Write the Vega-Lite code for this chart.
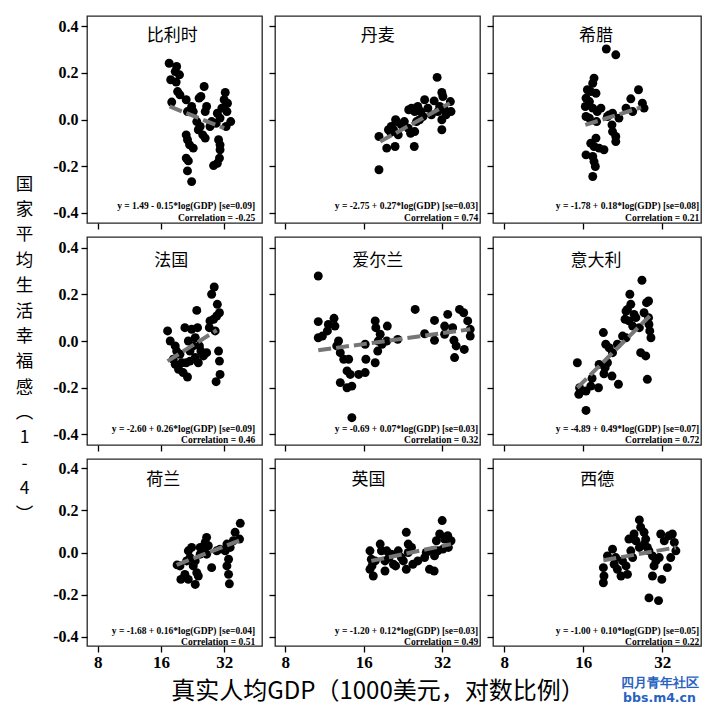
{
  "$schema": "https://vega.github.io/schema/vega-lite/v6.json",
  "padding": {"left": 14, "top": 15, "right": 5, "bottom": 0},
  "background": "white",
  "datasets": {
    "points": [
      {"country":"BE","gdp":17.5,"happiness":0.242},{"country":"BE","gdp":19.0,"happiness":0.228},{"country":"BE","gdp":18.7,"happiness":0.206},{"country":"BE","gdp":19.6,"happiness":0.192},{"country":"BE","gdp":17.8,"happiness":0.171},{"country":"BE","gdp":18.9,"happiness":0.161},{"country":"BE","gdp":19.2,"happiness":0.120},{"country":"BE","gdp":19.7,"happiness":0.106},{"country":"BE","gdp":18.0,"happiness":0.075},{"country":"BE","gdp":21.1,"happiness":0.085},{"country":"BE","gdp":22.4,"happiness":0.056},{"country":"BE","gdp":21.4,"happiness":0.034},{"country":"BE","gdp":22.8,"happiness":0.034},{"country":"BE","gdp":24.3,"happiness":0.092},{"country":"BE","gdp":25.7,"happiness":0.142},{"country":"BE","gdp":24.8,"happiness":0.099},{"country":"BE","gdp":26.4,"happiness":0.056},{"country":"BE","gdp":26.0,"happiness":0.034},{"country":"BE","gdp":32.4,"happiness":0.116},{"country":"BE","gdp":32.0,"happiness":0.085},{"country":"BE","gdp":33.2,"happiness":0.070},{"country":"BE","gdp":31.2,"happiness":0.049},{"country":"BE","gdp":33.0,"happiness":0.034},{"country":"BE","gdp":34.4,"happiness":-0.009},{"country":"BE","gdp":32.7,"happiness":-0.030},{"country":"BE","gdp":29.7,"happiness":0.027},{"country":"BE","gdp":30.6,"happiness":0.006},{"country":"BE","gdp":29.3,"happiness":-0.016},{"country":"BE","gdp":23.7,"happiness":-0.009},{"country":"BE","gdp":24.6,"happiness":-0.030},{"country":"BE","gdp":24.1,"happiness":-0.044},{"country":"BE","gdp":25.3,"happiness":-0.066},{"country":"BE","gdp":26.0,"happiness":-0.080},{"country":"BE","gdp":27.4,"happiness":-0.030},{"country":"BE","gdp":27.9,"happiness":-0.009},{"country":"BE","gdp":21.1,"happiness":-0.066},{"country":"BE","gdp":21.4,"happiness":-0.087},{"country":"BE","gdp":21.9,"happiness":-0.109},{"country":"BE","gdp":22.8,"happiness":-0.123},{"country":"BE","gdp":21.1,"happiness":-0.166},{"country":"BE","gdp":21.6,"happiness":-0.178},{"country":"BE","gdp":21.4,"happiness":-0.221},{"country":"BE","gdp":22.4,"happiness":-0.267},{"country":"BE","gdp":30.1,"happiness":-0.087},{"country":"BE","gdp":30.6,"happiness":-0.109},{"country":"BE","gdp":30.6,"happiness":-0.130},{"country":"BE","gdp":30.4,"happiness":-0.166},{"country":"BE","gdp":28.5,"happiness":-0.198},{"country":"BE","gdp":29.7,"happiness":-0.188},
      {"country":"DK","gdp":18.3,"happiness":-0.073},{"country":"DK","gdp":18.3,"happiness":-0.216},{"country":"DK","gdp":19.6,"happiness":-0.123},{"country":"DK","gdp":19.9,"happiness":-0.044},{"country":"DK","gdp":20.4,"happiness":-0.030},{"country":"DK","gdp":21.2,"happiness":-0.001},{"country":"DK","gdp":20.8,"happiness":-0.044},{"country":"DK","gdp":21.1,"happiness":-0.116},{"country":"DK","gdp":21.7,"happiness":-0.066},{"country":"DK","gdp":22.3,"happiness":-0.023},{"country":"DK","gdp":22.9,"happiness":-0.009},{"country":"DK","gdp":23.7,"happiness":-0.037},{"country":"DK","gdp":24.2,"happiness":-0.059},{"country":"DK","gdp":25.0,"happiness":-0.116},{"country":"DK","gdp":25.1,"happiness":-0.052},{"country":"DK","gdp":23.8,"happiness":0.042},{"country":"DK","gdp":24.4,"happiness":0.049},{"country":"DK","gdp":25.1,"happiness":0.034},{"country":"DK","gdp":25.8,"happiness":0.056},{"country":"DK","gdp":26.5,"happiness":0.034},{"country":"DK","gdp":27.4,"happiness":0.085},{"country":"DK","gdp":28.2,"happiness":0.049},{"country":"DK","gdp":29.8,"happiness":0.080},{"country":"DK","gdp":30.6,"happiness":0.181},{"country":"DK","gdp":31.9,"happiness":0.116},{"country":"DK","gdp":32.2,"happiness":0.099},{"country":"DK","gdp":31.3,"happiness":0.056},{"country":"DK","gdp":32.7,"happiness":0.042},{"country":"DK","gdp":34.4,"happiness":0.077},{"country":"DK","gdp":34.6,"happiness":0.034},{"country":"DK","gdp":33.1,"happiness":0.020},{"country":"DK","gdp":31.9,"happiness":-0.001},{"country":"DK","gdp":31.9,"happiness":-0.044},{"country":"DK","gdp":30.8,"happiness":0.034},{"country":"DK","gdp":29.1,"happiness":0.020},{"country":"DK","gdp":27.0,"happiness":0.013},{"country":"DK","gdp":25.5,"happiness":-0.009},{"country":"DK","gdp":26.2,"happiness":-0.001},{"country":"DK","gdp":21.4,"happiness":-0.009},{"country":"DK","gdp":20.3,"happiness":-0.055},
      {"country":"GR","gdp":19.6,"happiness":0.303},{"country":"GR","gdp":21.3,"happiness":0.278},{"country":"GR","gdp":17.6,"happiness":0.178},{"country":"GR","gdp":17.4,"happiness":0.156},{"country":"GR","gdp":16.6,"happiness":0.128},{"country":"GR","gdp":17.1,"happiness":0.120},{"country":"GR","gdp":17.9,"happiness":0.113},{"country":"GR","gdp":16.4,"happiness":0.092},{"country":"GR","gdp":16.9,"happiness":0.077},{"country":"GR","gdp":16.3,"happiness":0.056},{"country":"GR","gdp":17.4,"happiness":0.049},{"country":"GR","gdp":18.1,"happiness":0.034},{"country":"GR","gdp":18.7,"happiness":0.049},{"country":"GR","gdp":16.4,"happiness":0.013},{"country":"GR","gdp":16.9,"happiness":0.006},{"country":"GR","gdp":19.8,"happiness":0.013},{"country":"GR","gdp":20.1,"happiness":0.020},{"country":"GR","gdp":20.7,"happiness":0.027},{"country":"GR","gdp":21.9,"happiness":0.006},{"country":"GR","gdp":20.6,"happiness":-0.023},{"country":"GR","gdp":20.7,"happiness":-0.052},{"country":"GR","gdp":21.3,"happiness":-0.073},{"country":"GR","gdp":21.3,"happiness":-0.095},{"country":"GR","gdp":17.9,"happiness":-0.080},{"country":"GR","gdp":17.1,"happiness":-0.102},{"country":"GR","gdp":17.6,"happiness":-0.116},{"country":"GR","gdp":18.4,"happiness":-0.123},{"country":"GR","gdp":19.2,"happiness":-0.130},{"country":"GR","gdp":16.4,"happiness":-0.152},{"country":"GR","gdp":17.4,"happiness":-0.159},{"country":"GR","gdp":17.6,"happiness":-0.181},{"country":"GR","gdp":17.8,"happiness":-0.202},{"country":"GR","gdp":17.4,"happiness":-0.245},{"country":"GR","gdp":24.3,"happiness":0.089},{"country":"GR","gdp":26.0,"happiness":0.128},{"country":"GR","gdp":26.9,"happiness":0.070},{"country":"GR","gdp":27.3,"happiness":0.049},{"country":"GR","gdp":24.7,"happiness":0.034},{"country":"GR","gdp":23.3,"happiness":0.049},{"country":"GR","gdp":18.0,"happiness":-0.009},
      {"country":"FR","gdp":28.7,"happiness":0.231},{"country":"FR","gdp":27.9,"happiness":0.200},{"country":"FR","gdp":29.7,"happiness":0.157},{"country":"FR","gdp":30.4,"happiness":0.121},{"country":"FR","gdp":29.5,"happiness":0.107},{"country":"FR","gdp":28.5,"happiness":0.093},{"country":"FR","gdp":27.4,"happiness":0.086},{"country":"FR","gdp":27.2,"happiness":0.057},{"country":"FR","gdp":29.0,"happiness":0.043},{"country":"FR","gdp":23.7,"happiness":0.131},{"country":"FR","gdp":17.2,"happiness":0.043},{"country":"FR","gdp":17.7,"happiness":0.000},{"country":"FR","gdp":18.7,"happiness":-0.021},{"country":"FR","gdp":19.0,"happiness":-0.043},{"country":"FR","gdp":18.3,"happiness":-0.078},{"country":"FR","gdp":18.7,"happiness":-0.100},{"country":"FR","gdp":19.4,"happiness":-0.121},{"country":"FR","gdp":20.4,"happiness":-0.135},{"country":"FR","gdp":21.4,"happiness":-0.154},{"country":"FR","gdp":20.1,"happiness":-0.093},{"country":"FR","gdp":21.1,"happiness":-0.093},{"country":"FR","gdp":22.0,"happiness":-0.086},{"country":"FR","gdp":21.6,"happiness":0.000},{"country":"FR","gdp":20.8,"happiness":0.057},{"country":"FR","gdp":22.4,"happiness":0.050},{"country":"FR","gdp":23.9,"happiness":0.057},{"country":"FR","gdp":23.3,"happiness":0.014},{"country":"FR","gdp":24.4,"happiness":-0.021},{"country":"FR","gdp":24.8,"happiness":-0.043},{"country":"FR","gdp":25.5,"happiness":-0.064},{"country":"FR","gdp":26.4,"happiness":-0.050},{"country":"FR","gdp":24.1,"happiness":-0.093},{"country":"FR","gdp":23.3,"happiness":-0.071},{"country":"FR","gdp":19.7,"happiness":-0.057},{"country":"FR","gdp":30.1,"happiness":-0.043},{"country":"FR","gdp":30.4,"happiness":-0.086},{"country":"FR","gdp":30.6,"happiness":-0.143},{"country":"FR","gdp":29.3,"happiness":-0.174},{"country":"FR","gdp":22.0,"happiness":-0.043},{"country":"FR","gdp":22.8,"happiness":-0.021},
      {"country":"IE","gdp":10.7,"happiness":0.278},{"country":"IE","gdp":10.7,"happiness":0.083},{"country":"IE","gdp":10.7,"happiness":0.014},{"country":"IE","gdp":11.1,"happiness":0.021},{"country":"IE","gdp":11.6,"happiness":0.043},{"country":"IE","gdp":11.7,"happiness":0.071},{"country":"IE","gdp":12.3,"happiness":0.097},{"country":"IE","gdp":12.4,"happiness":0.064},{"country":"IE","gdp":12.8,"happiness":0.000},{"country":"IE","gdp":12.6,"happiness":-0.021},{"country":"IE","gdp":13.0,"happiness":-0.050},{"country":"IE","gdp":13.4,"happiness":-0.078},{"country":"IE","gdp":14.0,"happiness":-0.078},{"country":"IE","gdp":13.8,"happiness":-0.128},{"country":"IE","gdp":14.2,"happiness":-0.143},{"country":"IE","gdp":13.0,"happiness":-0.178},{"country":"IE","gdp":13.8,"happiness":-0.200},{"country":"IE","gdp":14.4,"happiness":-0.193},{"country":"IE","gdp":15.3,"happiness":-0.143},{"country":"IE","gdp":16.2,"happiness":-0.135},{"country":"IE","gdp":16.3,"happiness":-0.078},{"country":"IE","gdp":17.7,"happiness":-0.093},{"country":"IE","gdp":16.2,"happiness":-0.014},{"country":"IE","gdp":17.7,"happiness":0.086},{"country":"IE","gdp":17.8,"happiness":0.057},{"country":"IE","gdp":18.5,"happiness":0.029},{"country":"IE","gdp":18.2,"happiness":0.000},{"country":"IE","gdp":18.1,"happiness":-0.043},{"country":"IE","gdp":18.8,"happiness":-0.014},{"country":"IE","gdp":19.6,"happiness":0.000},{"country":"IE","gdp":19.7,"happiness":0.064},{"country":"IE","gdp":21.6,"happiness":0.007},{"country":"IE","gdp":25.2,"happiness":0.135},{"country":"IE","gdp":27.4,"happiness":0.031},{"country":"IE","gdp":29.9,"happiness":0.088},{"country":"IE","gdp":29.9,"happiness":0.003},{"country":"IE","gdp":32.7,"happiness":0.029},{"country":"IE","gdp":33.6,"happiness":0.114},{"country":"IE","gdp":35.1,"happiness":0.057},{"country":"IE","gdp":35.5,"happiness":0.003},{"country":"IE","gdp":36.2,"happiness":-0.021},{"country":"IE","gdp":35.7,"happiness":-0.071},{"country":"IE","gdp":38.9,"happiness":-0.036},{"country":"IE","gdp":37.3,"happiness":0.135},{"country":"IE","gdp":38.7,"happiness":0.121},{"country":"IE","gdp":40.1,"happiness":0.086},{"country":"IE","gdp":41.0,"happiness":0.050},{"country":"IE","gdp":41.0,"happiness":0.021},{"country":"IE","gdp":14.4,"happiness":-0.328},{"country":"IE","gdp":32.7,"happiness":0.064},
      {"country":"IT","gdp":15.2,"happiness":-0.093},{"country":"IT","gdp":15.4,"happiness":-0.228},{"country":"IT","gdp":15.5,"happiness":-0.200},{"country":"IT","gdp":16.4,"happiness":-0.214},{"country":"IT","gdp":16.4,"happiness":-0.297},{"country":"IT","gdp":17.3,"happiness":-0.160},{"country":"IT","gdp":17.1,"happiness":-0.193},{"country":"IT","gdp":18.3,"happiness":-0.200},{"country":"IT","gdp":18.4,"happiness":-0.100},{"country":"IT","gdp":19.1,"happiness":0.036},{"country":"IT","gdp":19.5,"happiness":-0.014},{"country":"IT","gdp":19.4,"happiness":-0.114},{"country":"IT","gdp":19.2,"happiness":-0.140},{"country":"IT","gdp":20.1,"happiness":-0.029},{"country":"IT","gdp":19.8,"happiness":-0.093},{"country":"IT","gdp":20.6,"happiness":-0.150},{"country":"IT","gdp":21.8,"happiness":-0.185},{"country":"IT","gdp":20.7,"happiness":-0.050},{"country":"IT","gdp":21.6,"happiness":-0.014},{"country":"IT","gdp":22.6,"happiness":0.021},{"country":"IT","gdp":23.3,"happiness":0.014},{"country":"IT","gdp":23.1,"happiness":0.093},{"country":"IT","gdp":23.3,"happiness":0.128},{"country":"IT","gdp":23.6,"happiness":0.135},{"country":"IT","gdp":24.1,"happiness":0.200},{"country":"IT","gdp":24.3,"happiness":0.157},{"country":"IT","gdp":23.9,"happiness":0.086},{"country":"IT","gdp":24.7,"happiness":0.064},{"country":"IT","gdp":25.0,"happiness":0.114},{"country":"IT","gdp":25.4,"happiness":0.100},{"country":"IT","gdp":26.8,"happiness":0.260},{"country":"IT","gdp":26.2,"happiness":0.057},{"country":"IT","gdp":26.5,"happiness":-0.050},{"country":"IT","gdp":27.7,"happiness":-0.064},{"country":"IT","gdp":27.9,"happiness":0.164},{"country":"IT","gdp":28.4,"happiness":0.171},{"country":"IT","gdp":28.4,"happiness":0.100},{"country":"IT","gdp":28.5,"happiness":0.071},{"country":"IT","gdp":28.7,"happiness":0.043},{"country":"IT","gdp":29.0,"happiness":0.014},{"country":"IT","gdp":28.1,"happiness":-0.164},{"country":"IT","gdp":27.3,"happiness":0.121},
      {"country":"NL","gdp":38.2,"happiness":0.139},{"country":"NL","gdp":36.1,"happiness":0.096},{"country":"NL","gdp":37.9,"happiness":0.064},{"country":"NL","gdp":35.4,"happiness":0.056},{"country":"NL","gdp":33.0,"happiness":0.040},{"country":"NL","gdp":32.4,"happiness":0.008},{"country":"NL","gdp":34.2,"happiness":0.024},{"country":"NL","gdp":33.6,"happiness":-0.032},{"country":"NL","gdp":33.0,"happiness":-0.064},{"country":"NL","gdp":33.6,"happiness":-0.104},{"country":"NL","gdp":33.9,"happiness":-0.149},{"country":"NL","gdp":26.4,"happiness":0.072},{"country":"NL","gdp":26.0,"happiness":0.048},{"country":"NL","gdp":26.9,"happiness":0.032},{"country":"NL","gdp":25.5,"happiness":0.008},{"country":"NL","gdp":24.6,"happiness":-0.008},{"country":"NL","gdp":22.4,"happiness":0.024},{"country":"NL","gdp":21.6,"happiness":0.008},{"country":"NL","gdp":22.0,"happiness":-0.024},{"country":"NL","gdp":23.3,"happiness":-0.040},{"country":"NL","gdp":22.8,"happiness":-0.064},{"country":"NL","gdp":23.7,"happiness":-0.096},{"country":"NL","gdp":24.1,"happiness":-0.112},{"country":"NL","gdp":23.3,"happiness":-0.152},{"country":"NL","gdp":21.6,"happiness":-0.128},{"country":"NL","gdp":19.7,"happiness":-0.064},{"country":"NL","gdp":19.9,"happiness":-0.128},{"country":"NL","gdp":20.8,"happiness":-0.104},{"country":"NL","gdp":27.9,"happiness":-0.072},{"country":"NL","gdp":29.5,"happiness":0.008},{"country":"NL","gdp":30.6,"happiness":0.016},{"country":"NL","gdp":26.4,"happiness":-0.008},{"country":"NL","gdp":19.1,"happiness":-0.059},{"country":"NL","gdp":21.2,"happiness":-0.040},{"country":"NL","gdp":24.6,"happiness":0.024},
      {"country":"UK","gdp":16.9,"happiness":0.008},{"country":"UK","gdp":17.1,"happiness":-0.032},{"country":"UK","gdp":16.9,"happiness":-0.080},{"country":"UK","gdp":17.4,"happiness":-0.112},{"country":"UK","gdp":17.7,"happiness":-0.040},{"country":"UK","gdp":18.5,"happiness":0.040},{"country":"UK","gdp":18.7,"happiness":0.008},{"country":"UK","gdp":19.6,"happiness":0.008},{"country":"UK","gdp":19.3,"happiness":-0.040},{"country":"UK","gdp":19.3,"happiness":-0.088},{"country":"UK","gdp":20.0,"happiness":-0.024},{"country":"UK","gdp":20.4,"happiness":-0.008},{"country":"UK","gdp":20.8,"happiness":-0.056},{"country":"UK","gdp":21.2,"happiness":-0.064},{"country":"UK","gdp":21.7,"happiness":0.008},{"country":"UK","gdp":22.3,"happiness":-0.024},{"country":"UK","gdp":22.7,"happiness":-0.040},{"country":"UK","gdp":23.3,"happiness":0.096},{"country":"UK","gdp":23.7,"happiness":0.040},{"country":"UK","gdp":23.3,"happiness":-0.080},{"country":"UK","gdp":23.7,"happiness":0.000},{"country":"UK","gdp":24.4,"happiness":0.024},{"country":"UK","gdp":24.7,"happiness":-0.056},{"country":"UK","gdp":25.8,"happiness":-0.040},{"country":"UK","gdp":27.4,"happiness":-0.024},{"country":"UK","gdp":27.8,"happiness":0.000},{"country":"UK","gdp":28.6,"happiness":-0.080},{"country":"UK","gdp":29.8,"happiness":-0.088},{"country":"UK","gdp":29.5,"happiness":0.008},{"country":"UK","gdp":30.4,"happiness":0.056},{"country":"UK","gdp":29.9,"happiness":-0.016},{"country":"UK","gdp":31.3,"happiness":0.088},{"country":"UK","gdp":32.0,"happiness":0.152},{"country":"UK","gdp":32.7,"happiness":0.064},{"country":"UK","gdp":33.6,"happiness":0.080},{"country":"UK","gdp":34.6,"happiness":0.056},{"country":"UK","gdp":33.8,"happiness":0.024},{"country":"UK","gdp":32.2,"happiness":0.016},{"country":"UK","gdp":30.8,"happiness":0.008},{"country":"UK","gdp":17.2,"happiness":-0.064},
      {"country":"WG","gdp":19.1,"happiness":-0.072},{"country":"WG","gdp":19.2,"happiness":-0.112},{"country":"WG","gdp":19.1,"happiness":-0.144},{"country":"WG","gdp":19.8,"happiness":-0.016},{"country":"WG","gdp":20.7,"happiness":0.016},{"country":"WG","gdp":21.3,"happiness":-0.024},{"country":"WG","gdp":21.0,"happiness":-0.056},{"country":"WG","gdp":21.6,"happiness":-0.080},{"country":"WG","gdp":22.3,"happiness":-0.112},{"country":"WG","gdp":22.6,"happiness":-0.040},{"country":"WG","gdp":23.3,"happiness":-0.064},{"country":"WG","gdp":23.6,"happiness":-0.104},{"country":"WG","gdp":24.3,"happiness":0.008},{"country":"WG","gdp":23.9,"happiness":0.064},{"country":"WG","gdp":25.0,"happiness":0.088},{"country":"WG","gdp":25.4,"happiness":0.056},{"country":"WG","gdp":26.2,"happiness":0.155},{"country":"WG","gdp":26.5,"happiness":0.120},{"country":"WG","gdp":27.3,"happiness":0.096},{"country":"WG","gdp":27.7,"happiness":0.064},{"country":"WG","gdp":27.3,"happiness":0.040},{"country":"WG","gdp":28.1,"happiness":0.024},{"country":"WG","gdp":28.5,"happiness":0.008},{"country":"WG","gdp":29.4,"happiness":-0.016},{"country":"WG","gdp":29.8,"happiness":-0.064},{"country":"WG","gdp":30.3,"happiness":-0.040},{"country":"WG","gdp":31.2,"happiness":-0.024},{"country":"WG","gdp":31.6,"happiness":0.088},{"country":"WG","gdp":32.6,"happiness":0.056},{"country":"WG","gdp":34.0,"happiness":0.080},{"country":"WG","gdp":35.0,"happiness":0.088},{"country":"WG","gdp":35.6,"happiness":0.048},{"country":"WG","gdp":36.1,"happiness":0.008},{"country":"WG","gdp":34.5,"happiness":-0.024},{"country":"WG","gdp":33.5,"happiness":-0.072},{"country":"WG","gdp":29.4,"happiness":-0.112},{"country":"WG","gdp":31.9,"happiness":-0.128},{"country":"WG","gdp":28.5,"happiness":-0.216},{"country":"WG","gdp":31.0,"happiness":-0.229},{"country":"WG","gdp":26.2,"happiness":0.024},{"country":"WG","gdp":24.7,"happiness":-0.024}
    ],
    "fits": [
      {"country":"BE","gdp":17.6,"happiness":0.056},{"country":"BE","gdp":32.0,"happiness":-0.037},
      {"country":"DK","gdp":18.5,"happiness":-0.095},{"country":"DK","gdp":34.2,"happiness":0.070},
      {"country":"GR","gdp":16.3,"happiness":-0.023},{"country":"GR","gdp":26.6,"happiness":0.052},
      {"country":"FR","gdp":17.2,"happiness":-0.086},{"country":"FR","gdp":29.5,"happiness":0.046},
      {"country":"IE","gdp":10.7,"happiness":-0.040},{"country":"IE","gdp":41.0,"happiness":0.050},
      {"country":"IT","gdp":15.2,"happiness":-0.200},{"country":"IT","gdp":28.7,"happiness":0.107},
      {"country":"NL","gdp":19.0,"happiness":-0.059},{"country":"NL","gdp":38.2,"happiness":0.059},
      {"country":"UK","gdp":17.1,"happiness":-0.040},{"country":"UK","gdp":34.6,"happiness":0.040},
      {"country":"WG","gdp":19.1,"happiness":-0.037},{"country":"WG","gdp":36.1,"happiness":0.024}
    ]
  },
  "columns": 3,
  "bounds": "flush",
  "spacing": {"row": 14, "column": 13},
  "concat": [
    {"width": 175, "height": 207, "layer": [
      {"data": {"name": "points"}, "transform": [{"filter": "datum.country === 'BE'"}], "mark": {"type": "circle", "size": 80, "color": "black", "opacity": 1},
       "encoding": {"x": {"field": "gdp", "type": "quantitative", "scale": {"type": "log", "domain": [7.1, 48.5], "nice": false}, "axis": {"values": [8, 16, 32], "labels": false, "title": null}},
                    "y": {"field": "happiness", "type": "quantitative", "scale": {"domain": [-0.445, 0.445], "nice": false, "zero": false}, "axis": {"values": [-0.4, -0.2, 0, 0.2, 0.4], "title": null, "labelExpr": "datum.value < 0 ? '-' + format(-datum.value, '.1f') : format(datum.value, '.1f')"}}}},
      {"data": {"name": "fits"}, "transform": [{"filter": "datum.country === 'BE'"}], "mark": {"type": "line", "color": "#767676", "strokeWidth": 4, "strokeDash": [13, 5]}, "encoding": {"x": {"field": "gdp", "type": "quantitative"}, "y": {"field": "happiness", "type": "quantitative"}}},
      {"data": {"values": [{}]}, "mark": {"type": "text", "text": "比利时", "font": "Noto Sans CJK SC", "fontSize": 17, "align": "center", "baseline": "middle", "color": "black"}, "encoding": {"x": {"datum": 18.1}, "y": {"datum": 0.358}}},
      {"data": {"values": [{}]}, "mark": {"type": "text", "text": "y = 1.49 - 0.15*log(GDP) [se=0.09]", "font": "Liberation Serif", "fontWeight": "bold", "fontSize": 9.5, "align": "right", "color": "black"}, "encoding": {"x": {"datum": 45}, "y": {"datum": -0.374}}},
      {"data": {"values": [{}]}, "mark": {"type": "text", "text": "Correlation = -0.25", "font": "Liberation Serif", "fontWeight": "bold", "fontSize": 9.5, "align": "right", "color": "black"}, "encoding": {"x": {"datum": 45}, "y": {"datum": -0.422}}}
    ]},
    {"width": 205, "height": 207, "layer": [
      {"data": {"name": "points"}, "transform": [{"filter": "datum.country === 'DK'"}], "mark": {"type": "circle", "size": 80, "color": "black", "opacity": 1},
       "encoding": {"x": {"field": "gdp", "type": "quantitative", "scale": {"type": "log", "domain": [7.3, 44.7], "nice": false}, "axis": {"values": [8, 16, 32], "labels": false, "title": null}},
                    "y": {"field": "happiness", "type": "quantitative", "scale": {"domain": [-0.445, 0.445], "nice": false, "zero": false}, "axis": {"values": [-0.4, -0.2, 0, 0.2, 0.4], "title": null, "labels": false}}}},
      {"data": {"name": "fits"}, "transform": [{"filter": "datum.country === 'DK'"}], "mark": {"type": "line", "color": "#767676", "strokeWidth": 4, "strokeDash": [13, 5]}, "encoding": {"x": {"field": "gdp", "type": "quantitative"}, "y": {"field": "happiness", "type": "quantitative"}}},
      {"data": {"values": [{}]}, "mark": {"type": "text", "text": "丹麦", "font": "Noto Sans CJK SC", "fontSize": 17, "align": "center", "baseline": "middle", "color": "black"}, "encoding": {"x": {"datum": 18.1}, "y": {"datum": 0.358}}},
      {"data": {"values": [{}]}, "mark": {"type": "text", "text": "y = -2.75 + 0.27*log(GDP) [se=0.03]", "font": "Liberation Serif", "fontWeight": "bold", "fontSize": 9.5, "align": "right", "color": "black"}, "encoding": {"x": {"datum": 44}, "y": {"datum": -0.374}}},
      {"data": {"values": [{}]}, "mark": {"type": "text", "text": "Correlation = 0.74", "font": "Liberation Serif", "fontWeight": "bold", "fontSize": 9.5, "align": "right", "color": "black"}, "encoding": {"x": {"datum": 44}, "y": {"datum": -0.422}}}
    ]},
    {"width": 208, "height": 207, "layer": [
      {"data": {"name": "points"}, "transform": [{"filter": "datum.country === 'GR'"}], "mark": {"type": "circle", "size": 80, "color": "black", "opacity": 1},
       "encoding": {"x": {"field": "gdp", "type": "quantitative", "scale": {"type": "log", "domain": [7.25, 45], "nice": false}, "axis": {"values": [8, 16, 32], "labels": false, "title": null}},
                    "y": {"field": "happiness", "type": "quantitative", "scale": {"domain": [-0.445, 0.445], "nice": false, "zero": false}, "axis": {"values": [-0.4, -0.2, 0, 0.2, 0.4], "title": null, "labels": false}}}},
      {"data": {"name": "fits"}, "transform": [{"filter": "datum.country === 'GR'"}], "mark": {"type": "line", "color": "#767676", "strokeWidth": 4, "strokeDash": [13, 5]}, "encoding": {"x": {"field": "gdp", "type": "quantitative"}, "y": {"field": "happiness", "type": "quantitative"}}},
      {"data": {"values": [{}]}, "mark": {"type": "text", "text": "希腊", "font": "Noto Sans CJK SC", "fontSize": 17, "align": "center", "baseline": "middle", "color": "black"}, "encoding": {"x": {"datum": 17.9}, "y": {"datum": 0.358}}},
      {"data": {"values": [{}]}, "mark": {"type": "text", "text": "y = -1.78 + 0.18*log(GDP) [se=0.08]", "font": "Liberation Serif", "fontWeight": "bold", "fontSize": 9.5, "align": "right", "color": "black"}, "encoding": {"x": {"datum": 44.3}, "y": {"datum": -0.374}}},
      {"data": {"values": [{}]}, "mark": {"type": "text", "text": "Correlation = 0.21", "font": "Liberation Serif", "fontWeight": "bold", "fontSize": 9.5, "align": "right", "color": "black"}, "encoding": {"x": {"datum": 44.3}, "y": {"datum": -0.422}}}
    ]},
    {"width": 175, "height": 208, "layer": [
      {"data": {"name": "points"}, "transform": [{"filter": "datum.country === 'FR'"}], "mark": {"type": "circle", "size": 80, "color": "black", "opacity": 1},
       "encoding": {"x": {"field": "gdp", "type": "quantitative", "scale": {"type": "log", "domain": [7.1, 48.5], "nice": false}, "axis": {"values": [8, 16, 32], "labels": false, "title": null}},
                    "y": {"field": "happiness", "type": "quantitative", "scale": {"domain": [-0.445, 0.445], "nice": false, "zero": false}, "axis": {"values": [-0.4, -0.2, 0, 0.2, 0.4], "labelExpr": "datum.value < 0 ? '-' + format(-datum.value, '.1f') : format(datum.value, '.1f')",
                      "title": ["国", "家", "平", "均", "生", "活", "幸", "福", "感", "︵", "1", "-", "4", "︶"], "titleAngle": 0, "titleX": -63, "titleY": -62, "titleAlign": "center", "titleBaseline": "top", "titleFont": "Noto Sans CJK SC", "titleFontSize": 17.5, "titleFontWeight": "normal", "titleLineHeight": 25.4, "titleColor": "black"}}}},
      {"data": {"name": "fits"}, "transform": [{"filter": "datum.country === 'FR'"}], "mark": {"type": "line", "color": "#767676", "strokeWidth": 4, "strokeDash": [13, 5]}, "encoding": {"x": {"field": "gdp", "type": "quantitative"}, "y": {"field": "happiness", "type": "quantitative"}}},
      {"data": {"values": [{}]}, "mark": {"type": "text", "text": "法国", "font": "Noto Sans CJK SC", "fontSize": 17, "align": "center", "baseline": "middle", "color": "black"}, "encoding": {"x": {"datum": 17.9}, "y": {"datum": 0.342}}},
      {"data": {"values": [{}]}, "mark": {"type": "text", "text": "y = -2.60 + 0.26*log(GDP) [se=0.09]", "font": "Liberation Serif", "fontWeight": "bold", "fontSize": 9.5, "align": "right", "color": "black"}, "encoding": {"x": {"datum": 45}, "y": {"datum": -0.376}}},
      {"data": {"values": [{}]}, "mark": {"type": "text", "text": "Correlation = 0.46", "font": "Liberation Serif", "fontWeight": "bold", "fontSize": 9.5, "align": "right", "color": "black"}, "encoding": {"x": {"datum": 45}, "y": {"datum": -0.424}}}
    ]},
    {"width": 205, "height": 208, "layer": [
      {"data": {"name": "points"}, "transform": [{"filter": "datum.country === 'IE'"}], "mark": {"type": "circle", "size": 80, "color": "black", "opacity": 1},
       "encoding": {"x": {"field": "gdp", "type": "quantitative", "scale": {"type": "log", "domain": [7.3, 44.7], "nice": false}, "axis": {"values": [8, 16, 32], "labels": false, "title": null}},
                    "y": {"field": "happiness", "type": "quantitative", "scale": {"domain": [-0.445, 0.445], "nice": false, "zero": false}, "axis": {"values": [-0.4, -0.2, 0, 0.2, 0.4], "title": null, "labels": false}}}},
      {"data": {"name": "fits"}, "transform": [{"filter": "datum.country === 'IE'"}], "mark": {"type": "line", "color": "#767676", "strokeWidth": 4, "strokeDash": [13, 5]}, "encoding": {"x": {"field": "gdp", "type": "quantitative"}, "y": {"field": "happiness", "type": "quantitative"}}},
      {"data": {"values": [{}]}, "mark": {"type": "text", "text": "爱尔兰", "font": "Noto Sans CJK SC", "fontSize": 17, "align": "center", "baseline": "middle", "color": "black"}, "encoding": {"x": {"datum": 18.1}, "y": {"datum": 0.342}}},
      {"data": {"values": [{}]}, "mark": {"type": "text", "text": "y = -0.69 + 0.07*log(GDP) [se=0.03]", "font": "Liberation Serif", "fontWeight": "bold", "fontSize": 9.5, "align": "right", "color": "black"}, "encoding": {"x": {"datum": 44}, "y": {"datum": -0.376}}},
      {"data": {"values": [{}]}, "mark": {"type": "text", "text": "Correlation = 0.32", "font": "Liberation Serif", "fontWeight": "bold", "fontSize": 9.5, "align": "right", "color": "black"}, "encoding": {"x": {"datum": 44}, "y": {"datum": -0.424}}}
    ]},
    {"width": 208, "height": 208, "layer": [
      {"data": {"name": "points"}, "transform": [{"filter": "datum.country === 'IT'"}], "mark": {"type": "circle", "size": 80, "color": "black", "opacity": 1},
       "encoding": {"x": {"field": "gdp", "type": "quantitative", "scale": {"type": "log", "domain": [7.25, 45], "nice": false}, "axis": {"values": [8, 16, 32], "labels": false, "title": null}},
                    "y": {"field": "happiness", "type": "quantitative", "scale": {"domain": [-0.445, 0.445], "nice": false, "zero": false}, "axis": {"values": [-0.4, -0.2, 0, 0.2, 0.4], "title": null, "labels": false}}}},
      {"data": {"name": "fits"}, "transform": [{"filter": "datum.country === 'IT'"}], "mark": {"type": "line", "color": "#767676", "strokeWidth": 4, "strokeDash": [13, 5]}, "encoding": {"x": {"field": "gdp", "type": "quantitative"}, "y": {"field": "happiness", "type": "quantitative"}}},
      {"data": {"values": [{}]}, "mark": {"type": "text", "text": "意大利", "font": "Noto Sans CJK SC", "fontSize": 17, "align": "center", "baseline": "middle", "color": "black"}, "encoding": {"x": {"datum": 17.9}, "y": {"datum": 0.342}}},
      {"data": {"values": [{}]}, "mark": {"type": "text", "text": "y = -4.89 + 0.49*log(GDP) [se=0.07]", "font": "Liberation Serif", "fontWeight": "bold", "fontSize": 9.5, "align": "right", "color": "black"}, "encoding": {"x": {"datum": 44.3}, "y": {"datum": -0.376}}},
      {"data": {"values": [{}]}, "mark": {"type": "text", "text": "Correlation = 0.72", "font": "Liberation Serif", "fontWeight": "bold", "fontSize": 9.5, "align": "right", "color": "black"}, "encoding": {"x": {"datum": 44.3}, "y": {"datum": -0.424}}}
    ]},
    {"width": 175, "height": 187, "layer": [
      {"data": {"name": "points"}, "transform": [{"filter": "datum.country === 'NL'"}], "mark": {"type": "circle", "size": 80, "color": "black", "opacity": 1},
       "encoding": {"x": {"field": "gdp", "type": "quantitative", "scale": {"type": "log", "domain": [7.1, 48.5], "nice": false}, "axis": {"values": [8, 16, 32], "format": "d", "title": null}},
                    "y": {"field": "happiness", "type": "quantitative", "scale": {"domain": [-0.445, 0.445], "nice": false, "zero": false}, "axis": {"values": [-0.4, -0.2, 0, 0.2, 0.4], "title": null, "labelExpr": "datum.value < 0 ? '-' + format(-datum.value, '.1f') : format(datum.value, '.1f')"}}}},
      {"data": {"name": "fits"}, "transform": [{"filter": "datum.country === 'NL'"}], "mark": {"type": "line", "color": "#767676", "strokeWidth": 4, "strokeDash": [13, 5]}, "encoding": {"x": {"field": "gdp", "type": "quantitative"}, "y": {"field": "happiness", "type": "quantitative"}}},
      {"data": {"values": [{}]}, "mark": {"type": "text", "text": "荷兰", "font": "Noto Sans CJK SC", "fontSize": 17, "align": "center", "baseline": "middle", "color": "black"}, "encoding": {"x": {"datum": 16.4}, "y": {"datum": 0.346}}},
      {"data": {"values": [{}]}, "mark": {"type": "text", "text": "y = -1.68 + 0.16*log(GDP) [se=0.04]", "font": "Liberation Serif", "fontWeight": "bold", "fontSize": 9.5, "align": "right", "color": "black"}, "encoding": {"x": {"datum": 45}, "y": {"datum": -0.374}}},
      {"data": {"values": [{}]}, "mark": {"type": "text", "text": "Correlation = 0.51", "font": "Liberation Serif", "fontWeight": "bold", "fontSize": 9.5, "align": "right", "color": "black"}, "encoding": {"x": {"datum": 45}, "y": {"datum": -0.428}}}
    ]},
    {"width": 205, "height": 187, "layer": [
      {"data": {"name": "points"}, "transform": [{"filter": "datum.country === 'UK'"}], "mark": {"type": "circle", "size": 80, "color": "black", "opacity": 1},
       "encoding": {"x": {"field": "gdp", "type": "quantitative", "scale": {"type": "log", "domain": [7.3, 44.7], "nice": false}, "axis": {"values": [8, 16, 32], "format": "d",
                      "title": "真实人均GDP（1000美元，对数比例）", "titleY": 45, "titleBaseline": "middle", "titleFont": "Noto Sans CJK SC", "titleFontSize": 24, "titleFontWeight": "normal", "titleColor": "black"}},
                    "y": {"field": "happiness", "type": "quantitative", "scale": {"domain": [-0.445, 0.445], "nice": false, "zero": false}, "axis": {"values": [-0.4, -0.2, 0, 0.2, 0.4], "title": null, "labels": false}}}},
      {"data": {"name": "fits"}, "transform": [{"filter": "datum.country === 'UK'"}], "mark": {"type": "line", "color": "#767676", "strokeWidth": 4, "strokeDash": [13, 5]}, "encoding": {"x": {"field": "gdp", "type": "quantitative"}, "y": {"field": "happiness", "type": "quantitative"}}},
      {"data": {"values": [{}]}, "mark": {"type": "text", "text": "英国", "font": "Noto Sans CJK SC", "fontSize": 17, "align": "center", "baseline": "middle", "color": "black"}, "encoding": {"x": {"datum": 16.7}, "y": {"datum": 0.346}}},
      {"data": {"values": [{}]}, "mark": {"type": "text", "text": "y = -1.20 + 0.12*log(GDP) [se=0.03]", "font": "Liberation Serif", "fontWeight": "bold", "fontSize": 9.5, "align": "right", "color": "black"}, "encoding": {"x": {"datum": 44}, "y": {"datum": -0.374}}},
      {"data": {"values": [{}]}, "mark": {"type": "text", "text": "Correlation = 0.49", "font": "Liberation Serif", "fontWeight": "bold", "fontSize": 9.5, "align": "right", "color": "black"}, "encoding": {"x": {"datum": 44}, "y": {"datum": -0.428}}}
    ]},
    {"width": 208, "height": 187, "layer": [
      {"data": {"name": "points"}, "transform": [{"filter": "datum.country === 'WG'"}], "mark": {"type": "circle", "size": 80, "color": "black", "opacity": 1},
       "encoding": {"x": {"field": "gdp", "type": "quantitative", "scale": {"type": "log", "domain": [7.25, 45], "nice": false}, "axis": {"values": [8, 16, 32], "format": "d",
                      "title": ["四月青年社区", "bbs.m4.cn"], "titleX": 166, "titleY": 30, "titleAlign": "center", "titleBaseline": "top", "titleFont": "DejaVu Sans", "titleFontSize": 12.5, "titleFontWeight": "bold", "titleColor": "#2862c0", "titleLineHeight": 15}},
                    "y": {"field": "happiness", "type": "quantitative", "scale": {"domain": [-0.445, 0.445], "nice": false, "zero": false}, "axis": {"values": [-0.4, -0.2, 0, 0.2, 0.4], "title": null, "labels": false}}}},
      {"data": {"name": "fits"}, "transform": [{"filter": "datum.country === 'WG'"}], "mark": {"type": "line", "color": "#767676", "strokeWidth": 4, "strokeDash": [13, 5]}, "encoding": {"x": {"field": "gdp", "type": "quantitative"}, "y": {"field": "happiness", "type": "quantitative"}}},
      {"data": {"values": [{}]}, "mark": {"type": "text", "text": "西德", "font": "Noto Sans CJK SC", "fontSize": 17, "align": "center", "baseline": "middle", "color": "black"}, "encoding": {"x": {"datum": 18.1}, "y": {"datum": 0.346}}},
      {"data": {"values": [{}]}, "mark": {"type": "text", "text": "y = -1.00 + 0.10*log(GDP) [se=0.05]", "font": "Liberation Serif", "fontWeight": "bold", "fontSize": 9.5, "align": "right", "color": "black"}, "encoding": {"x": {"datum": 44.3}, "y": {"datum": -0.374}}},
      {"data": {"values": [{}]}, "mark": {"type": "text", "text": "Correlation = 0.22", "font": "Liberation Serif", "fontWeight": "bold", "fontSize": 9.5, "align": "right", "color": "black"}, "encoding": {"x": {"datum": 44.3}, "y": {"datum": -0.428}}}
    ]}
  ],
  "config": {
    "view": {"stroke": "#262626", "strokeWidth": 1.3},
    "axis": {"domain": false, "grid": false, "ticks": true, "tickColor": "black", "tickSize": 6, "tickWidth": 1.3, "labelFont": "Liberation Serif", "labelFontWeight": "bold", "labelColor": "black", "labelFlush": false, "labelOverlap": false},
    "axisY": {"labelFontSize": 16, "labelPadding": 3},
    "axisX": {"labelFontSize": 17, "labelPadding": 2}
  }
}
